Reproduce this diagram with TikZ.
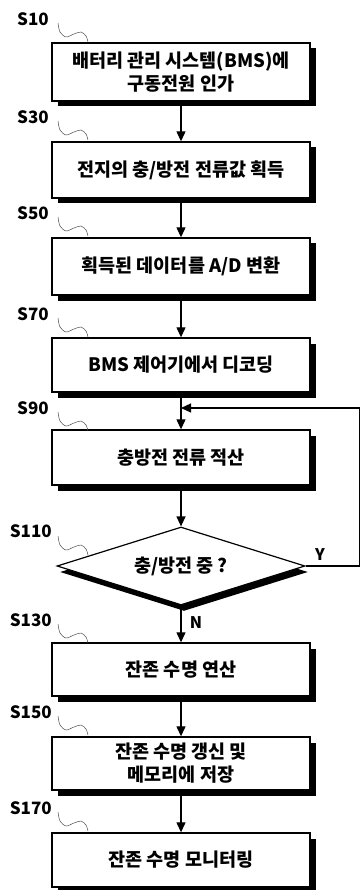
\documentclass[tikz,border=0pt]{standalone}
\usepackage{fontspec}
\setmainfont{Noto Sans CJK KR}
\usetikzlibrary{arrows.meta,shapes.geometric,shadows}
\begin{document}
\begin{tikzpicture}[x=1pt,y=-1pt,
  stepbox/.style={draw, line width=1.35pt, fill=white, minimum width=258pt,
    minimum height=#1, inner sep=0pt, align=center,
    font=\bfseries\fontsize{18.5}{23}\selectfont,
    drop shadow={shadow xshift=5.5pt, shadow yshift=-5.5pt, opacity=1, fill=black}},
  decbox/.style={draw, line width=1.2pt, fill=white, shape=diamond, aspect=3.18,
    minimum width=248pt, minimum height=78pt, inner sep=0pt,
    font=\bfseries\fontsize{18.5}{23}\selectfont,
    drop shadow={shadow xshift=3pt, shadow yshift=-6pt, opacity=1, fill=black}},
  lbl/.style={anchor=east, inner sep=0pt, font=\bfseries\fontsize{17}{17}\selectfont},
  yn/.style={inner sep=0pt, font=\bfseries\fontsize{16}{16}\selectfont},
  squig/.style={draw=black!70, line width=0.5pt},
  arr/.style={draw, line width=1.2pt, -{Triangle[length=10pt,width=9pt]}}
]
\useasboundingbox (0,0) rectangle (360,890);

% step boxes
\node[stepbox=58pt] (b1) at (181,72) {배터리 관리 시스템(BMS)에\\구동전원 인가};
\node[stepbox=56pt] (b2) at (181,170) {전지의 충/방전 전류값 획득};
\node[stepbox=57pt] (b3) at (181,266.5) {획득된 데이터를 A/D 변환};
\node[stepbox=54pt] (b4) at (181,365) {BMS 제어기에서 디코딩};
\node[stepbox=55pt] (b5) at (181,457.5) {충방전 전류 적산};
\node[decbox] (d) at (181,566) {충/방전 중 ?};
\node[stepbox=53pt] (b6) at (181,669.5) {잔존 수명 연산};
\node[stepbox=53pt] (b7) at (181,763.5) {잔존 수명 갱신 및\\메모리에 저장};
\node[stepbox=54pt] (b8) at (181,860) {잔존 수명 모니터링};

% step labels
\node[lbl] (l10) at (49,19) {S10};
\node[lbl] (l30) at (49,117) {S30};
\node[lbl] (l50) at (49,213) {S50};
\node[lbl] (l70) at (49,314) {S70};
\node[lbl] (l90) at (49,408) {S90};
\node[lbl] (l110) at (52,531) {S110};
\node[lbl] (l130) at (52,620) {S130};
\node[lbl] (l150) at (52,712) {S150};
\node[lbl] (l170) at (52,808) {S170};

% squiggles
\foreach \yy in {23,121,217,318,412,536,624,716,812}{
  \draw[squig, shift={(58,\yy)}] plot[smooth] coordinates {(0,0) (2,9) (8,14) (16,11) (23,9) (28,13) (30,19)};
}

% connectors
\draw[arr] (b1.south) -- (b2.north);
\draw[arr] (b2.south) -- (b3.north);
\draw[arr] (b3.south) -- (b4.north);
\draw[arr] (b4.south) -- (b5.north);
\draw[arr] (b5.south) -- (d.north);
\draw[arr] (d.south) -- (b6.north);
\draw[arr] (b6.south) -- (b7.north);
\draw[arr] (b7.south) -- (b8.north);

\coordinate (j) at (181,408);
\draw[arr] (d.east) -- ++(53.5,0) |- (j);

\node[yn] (ylab) at (320,555) {Y};
\node[yn] (nlab) at (196,623) {N};
\end{tikzpicture}
\end{document}
